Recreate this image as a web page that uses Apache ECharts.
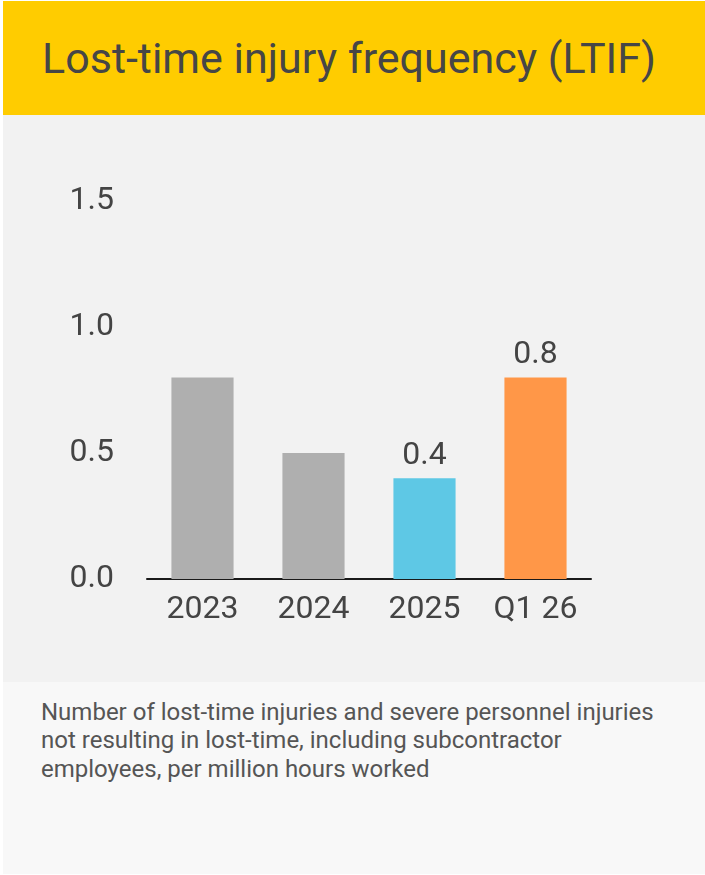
<!DOCTYPE html>
<html>
<head>
<meta charset="utf-8">
<script src="https://cdn.jsdelivr.net/npm/echarts@6/dist/echarts.min.js"></script>
<style>
  html, body { margin: 0; padding: 0; background: #fff; font-family: Roboto, sans-serif; }
  #page { position: relative; width: 705px; height: 875px; }
  #head { position: absolute; left: 3px; top: 1px; width: 702px; height: 114px; background: #ffcc00; }
  #title { position: absolute; left: 39px; top: 35.5px; font-size: 43px; line-height: 43px; color: #464646; white-space: nowrap; }
  #chart { position: absolute; left: 3px; top: 115px; width: 702px; height: 567px; background: #f2f2f2; }
  #foot { position: absolute; left: 3px; top: 682px; width: 702px; height: 192px; background: #f8f8f8; }
  #note { position: absolute; left: 38px; top: 15.5px; font-size: 24px; line-height: 28.5px; color: #555; white-space: nowrap; }
</style>
</head>
<body>
<div id="page">
  <div id="head"><div id="title">Lost-time injury frequency (LTIF)</div></div>
  <div id="chart"></div>
  <div id="foot">
    <div id="note">Number of lost-time injuries and severe personnel injuries<br>not resulting in lost-time, including subcontractor<br>employees, per million hours worked</div>
  </div>
</div>
<script>
/* data */
var categories = ['2023', '2024', '2025', 'Q1 26'];
var values = [0.8, 0.5, 0.4, 0.8];
var showValue = [false, false, true, true];
var yTicks = [0, 0.5, 1.0, 1.5];

var barColors = ['#afafaf', '#afafaf', '#5ec8e5', '#ff9748'];
var textColor = '#444';

var chart = echarts.init(document.getElementById('chart'));
var option = {
    animation: false,
    textStyle: { fontFamily: 'Roboto' },
    grid: { left: 144, right: 114, top: 86, bottom: 103 },
    xAxis: {
        type: 'category',
        data: categories,
        axisLine: { show: true, lineStyle: { color: '#1a1a1a', width: 2 } },
        axisTick: { show: false },
        axisLabel: { color: textColor, fontSize: 32, margin: 15 }
    },
    yAxis: {
        type: 'value',
        min: yTicks[0],
        max: yTicks[yTicks.length - 1],
        interval: yTicks[1] - yTicks[0],
        axisLine: { show: false },
        axisTick: { show: false },
        splitLine: { show: false },
        axisLabel: {
            color: textColor,
            fontSize: 32,
            margin: 33,
            padding: [8, 0, 0, 0],
            formatter: function (v) { return v.toFixed(1); }
        }
    },
    series: [{
        type: 'bar',
        barWidth: '56%',
        data: values.map(function (v, i) {
            return {
                value: v,
                itemStyle: { color: barColors[i] },
                label: { show: showValue[i] }
            };
        }),
        label: {
            position: 'top',
            distance: 6,
            color: textColor,
            fontSize: 32,
            formatter: function (p) { return p.value.toFixed(1); }
        }
    }]
};
chart.setOption(option);
</script>
</body>
</html>
